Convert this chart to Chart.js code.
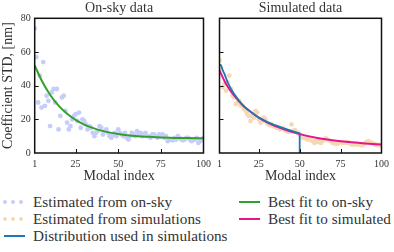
<!DOCTYPE html>
<html>
<head>
<meta charset="utf-8">
<script src="https://cdn.jsdelivr.net/npm/chart.js@4"></script>
<style>
  body { margin: 0; background: #fff; width: 394px; height: 252px; position: relative; overflow: hidden; font-family: "Liberation Serif", "Times New Roman", serif; color: #333; }
  canvas { position: absolute; top: 0; }
  #c1 { left: 0; }
  #c2 { left: 212px; }
  .lg { position: absolute; font-size: 15.2px; line-height: 17px; white-space: nowrap; }
  .dots { position: absolute; width: 4px; height: 4px; border-radius: 2px; }
  .ln { position: absolute; height: 2px; }
</style>
</head>
<body>
<canvas id="c1" width="216" height="186" style="width:216px;height:186px"></canvas>
<canvas id="c2" width="182" height="186" style="width:182px;height:186px"></canvas>

<div class="lg" style="left:33px;top:193px">Estimated from on-sky</div>
<div class="lg" style="left:33px;top:210px">Estimated from simulations</div>
<div class="lg" style="left:33px;top:227px">Distribution used in simulations</div>
<div class="lg" style="left:268px;top:193px">Best fit to on-sky</div>
<div class="lg" style="left:268px;top:210px">Best fit to simulated</div>
<div id="marks"></div>

<script>
const modalIndex = Array.from({ length: 100 }, (_, i) => i + 1);
const xTickValues = [1, 25, 50, 75, 100];
const yTickValues = [0, 20, 40, 60, 80];

const onSky = [
  74, 57, 30, 46, 27, 54, 28, 34, 31, 16,
  36, 38, 30, 38, 14, 22, 33, 34, 25, 18,
  14, 16, 20, 22, 23, 19, 24, 15, 20, 19,
  17, 14, 16, 15, 12, 10, 12, 13, 16, 15,
  11, 13, 14, 12, 10, 9, 11, 12, 10, 14,
  12, 11, 10, 12, 9, 8, 10, 12, 11, 10,
  13, 11, 12, 10, 11, 12, 10, 10, 9, 11,
  11, 10, 9, 11, 10, 11, 9, 10, 7, 8,
  8, 7.5, 9, 8, 10, 9, 8, 7.5, 8, 9,
  9, 8, 7, 8, 8, 9, 6, 7, 8, 9
];

const simulated = [
  55, 50, 39, 41, 37, 42, 46, 38, 34, 33,
  29, 30, 31, 28, 28, 26, 25, 23, 22, 19,
  22, 21, 25, 24, 20, 18, 19, 21, 20, 18,
  17, 16.5, 17, 16, 15.5, 15, 15, 14, 14.5, 14.5,
  13.5, 13, 12.5, 13, 17, 13, 13.5, 12.5, 12, 11,
  10, 9, 9.5, 8.5, 8, 8.5, 7.5, 7, 6, 7,
  6.5, 7, 6, 7, 8, 8.7, 8, 7.5, 7, 6,
  6.5, 5.5, 5.5, 6, 6.5, 6, 6.3, 6, 6.5, 6,
  5.5, 5, 5.5, 5, 5.5, 5, 4.8, 4.5, 5, 6,
  6.5, 7, 6.5, 6, 5.5, 5, 5, 4.8, 4.5, 4.5
];

// fitted curves, read at a few modal indices
const fitX = [1, 5, 10, 15, 20, 25, 30, 35, 40, 45, 50, 60, 70, 80, 90, 100];
const fitOnSky = [52, 43.2, 34.6, 28.1, 23.3, 19.7, 16.9, 14.9, 13.3, 12.1, 11.3, 10.1, 9.5, 9.1, 8.9, 8.75];
const fitSimulated = [49, 41, 34, 28.5, 24.5, 21, 18.2, 16, 14.2, 12.6, 11.2, 9, 7.6, 6.5, 5.7, 5];

// distribution used in simulations (ends with a drop at mode 50)
const distX = [1, 2, 3, 4, 6, 8, 10, 13, 16, 20, 25, 30, 35, 40, 45, 50, 50];
const distY = [52.5, 52, 49, 47, 42, 38, 35, 31, 27.5, 24.5, 21, 18.5, 16.5, 14.8, 13.2, 11.6, 0];

const cOnSky = "rgb(198, 205, 250)";
const cSim = "rgb(246, 217, 180)";
const cGreen = "rgb(51, 160, 44)";
const cPink = "rgb(232, 20, 140)";
const cBlue = "rgb(31, 119, 180)";

const serif = "'Liberation Serif', 'Times New Roman', serif";

function pts(xs, ys) {
  return xs.map((x, i) => ({ x: x, y: ys[i] }));
}

const frameTicks = {
  id: "frameTicks",
  afterDraw(chart) {
    const { ctx, chartArea: a, scales } = chart;
    ctx.save();
    ctx.strokeStyle = "#111";
    ctx.lineWidth = 1.5;
    ctx.strokeRect(a.left, a.top, a.right - a.left, a.bottom - a.top);
    ctx.lineWidth = 1;
    ctx.beginPath();
    scales.x.ticks.forEach(t => {
      if (t.value <= 1 || t.value >= 100) return;
      const px = Math.round(scales.x.getPixelForValue(t.value)) + 0.5;
      ctx.moveTo(px, a.bottom);
      ctx.lineTo(px, a.bottom - 4);
    });
    scales.y.ticks.forEach(t => {
      if (t.value <= 0 || t.value >= 80) return;
      const py = Math.round(scales.y.getPixelForValue(t.value)) + 0.5;
      ctx.moveTo(a.left, py);
      ctx.lineTo(a.left + 4, py);
    });
    ctx.stroke();
    ctx.restore();
  }
};

function makeChart(id, title, datasets, showY, yWidth, padRight) {
  return new Chart(document.getElementById(id), {
    type: "scatter",
    data: { datasets: datasets },
    plugins: [frameTicks],
    options: {
      responsive: false,
      animation: false,
      layout: { autoPadding: false, padding: { left: 0, right: padRight, top: 0, bottom: 0 } },
      plugins: {
        legend: { display: false },
        tooltip: { enabled: false },
        title: {
          display: true,
          text: title,
          fullSize: false,
          color: "#333",
          font: { family: serif, size: 14, weight: "normal" },
          padding: { top: 0, bottom: 1.5 },
        },
      },
      scales: {
        x: {
          type: "linear",
          min: 1,
          max: 100,
          afterBuildTicks: s => { s.ticks = xTickValues.map(v => ({ value: v })); },
          afterFit: s => { s.height = 33; },
          grid: { display: false, drawTicks: false },
          border: { display: false },
          ticks: { color: "#333", padding: 5, maxRotation: 0, font: { family: serif, size: 10 } },
          title: {
            display: true,
            text: "Modal index",
            color: "#333",
            font: { family: serif, size: 14 },
            padding: { top: 0, bottom: 1 },
          },
        },
        y: {
          min: 0,
          max: 80,
          afterBuildTicks: s => { s.ticks = yTickValues.map(v => ({ value: v })); },
          afterFit: s => { s.width = yWidth; },
          grid: { display: false, drawTicks: false },
          border: { display: false },
          ticks: { display: showY, color: "#333", padding: 4, font: { family: serif, size: 10 } },
          title: {
            display: showY,
            text: "Coefficient STD, [nm]",
            color: "#333",
            font: { family: serif, size: 14 },
            padding: 0,
          },
        },
      },
    },
  });
}

makeChart("c1", "On-sky data", [
  {
    data: pts(fitX, fitOnSky), showLine: true, borderColor: cGreen, borderWidth: 2,
    pointRadius: 0, cubicInterpolationMode: "monotone",
  },
  {
    data: pts(modalIndex, onSky), backgroundColor: cOnSky, borderWidth: 0, pointRadius: 2.4,
  },
], true, 34.7, 9.3);

makeChart("c2", "Simulated data", [
  {
    data: pts(distX, distY), showLine: true, borderColor: cBlue, borderWidth: 1.8,
    pointRadius: 0, tension: 0,
  },
  {
    data: pts(fitX, fitSimulated), showLine: true, borderColor: cPink, borderWidth: 2,
    pointRadius: 0, cubicInterpolationMode: "monotone",
  },
  {
    data: pts(modalIndex, simulated), backgroundColor: cSim, borderWidth: 0, pointRadius: 2.4,
  },
], false, 6.7, 3.3);

// legend markers
const marks = document.getElementById("marks");
function dotMark(left, top, color) {
  [0, 8, 16].forEach(dx => {
    const d = document.createElement("div");
    d.className = "dots";
    d.style.cssText = `left:${left + dx}px;top:${top + 7}px;background:${color}`;
    marks.appendChild(d);
  });
}
function lineMark(left, top, color) {
  const d = document.createElement("div");
  d.className = "ln";
  d.style.cssText = `left:${left}px;top:${top + 8}px;width:21px;background:${color}`;
  marks.appendChild(d);
}
dotMark(3, 193, cOnSky);
dotMark(3, 210, cSim);
lineMark(4, 227, cBlue);
lineMark(239, 193, cGreen);
lineMark(239, 210, cPink);
</script>
</body>
</html>
